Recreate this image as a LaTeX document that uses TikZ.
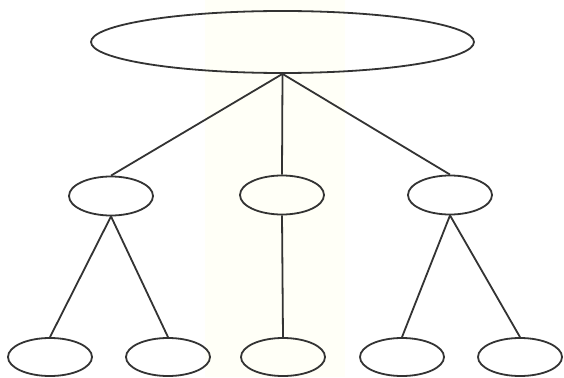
\documentclass[tikz,border=0pt]{standalone}
\usetikzlibrary{shapes.geometric}
\begin{document}
\begin{tikzpicture}[x=1pt,y=1pt,
  oval/.style={draw=black!80,line width=1.8pt,ellipse,inner sep=0pt,minimum width=84pt,minimum height=39pt},
  link/.style={draw=black!80,line width=1.8pt}]
\useasboundingbox (0,0) rectangle (564,-377);
\fill[white] (0,0) rectangle (564,-377);
\fill[yellow!3] (205,0) rectangle (345,-377);
\node[oval,minimum width=383pt,minimum height=62pt] (root) at (282.5,-42) {};
\node[oval] (m1) at (111,-196) {};
\node[oval] (m2) at (282,-195) {};
\node[oval] (m3) at (450,-195) {};
\node[oval,minimum height=38pt] (b1) at (50,-357) {};
\node[oval,minimum height=38pt] (b2) at (168,-357) {};
\node[oval,minimum height=38pt] (b3) at (283,-357) {};
\node[oval,minimum height=38pt] (b4) at (402,-357) {};
\node[oval,minimum height=38pt] (b5) at (520,-357) {};
\draw[link] (root.south) -- (m1.north);
\draw[link] (root.south) -- (m2.north);
\draw[link] (root.south) -- (m3.north);
\draw[link] (m1.south) -- (b1.north);
\draw[link] (m1.south) -- (b2.north);
\draw[link] (m2.south) -- (b3.north);
\draw[link] (m3.south) -- (b4.north);
\draw[link] (m3.south) -- (b5.north);
\end{tikzpicture}
\end{document}
